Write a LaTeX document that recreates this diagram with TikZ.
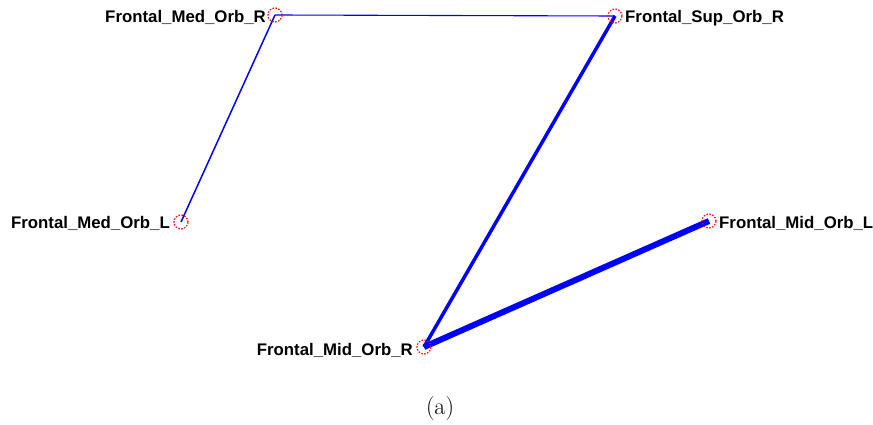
\documentclass[tikz,border=0pt]{standalone}
\usepackage{fontspec}
\setmainfont{Latin Modern Roman}
\newfontfamily\labfont{Liberation Sans}
\begin{document}
\begin{tikzpicture}[x=1pt,y=-1pt,
  roi/.style={circle,draw=red,dash pattern=on 1.5pt off 1.5pt,line width=1.2pt,minimum size=14pt,inner sep=0pt},
  lab/.style={font=\labfont\bfseries\fontsize{16.8}{19}\selectfont,inner sep=0pt},
  edge/.style={draw=blue,line cap=butt}]
\useasboundingbox (0,0) rectangle (873,425);
\coordinate (MedR) at (275,15);
\coordinate (SupR) at (615,16);
\coordinate (MedL) at (181,222);
\coordinate (MidL) at (709,221);
\coordinate (MidR) at (424,347);
\draw[edge,line width=1.1pt] (MedR) -- (SupR);
\draw[edge,line width=1.5pt] (MedR) -- (MedL);
\draw[edge,line width=3.5pt] (SupR) -- (MidR);
\draw[edge,line width=6pt] (MidR) -- (MidL);
\node[roi] (nMedR) at (MedR) {};
\node[roi] (nSupR) at (SupR) {};
\node[roi] (nMedL) at (MedL) {};
\node[roi] (nMidL) at (MidL) {};
\node[roi] (nMidR) at (MidR) {};
\node[lab,anchor=east] (tMedR) at (266,17) {Frontal\_Med\_Orb\_R};
\node[lab,anchor=west] (tSupR) at (625,18) {Frontal\_Sup\_Orb\_R};
\node[lab,anchor=east] (tMedL) at (170,223) {Frontal\_Med\_Orb\_L};
\node[lab,anchor=west] (tMidL) at (719,223) {Frontal\_Mid\_Orb\_L};
\node[lab,anchor=east] (tMidR) at (413,350) {Frontal\_Mid\_Orb\_R};
\node[font=\fontsize{24}{28}\selectfont] (cap) at (440,409) {(a)};
\end{tikzpicture}
\end{document}
